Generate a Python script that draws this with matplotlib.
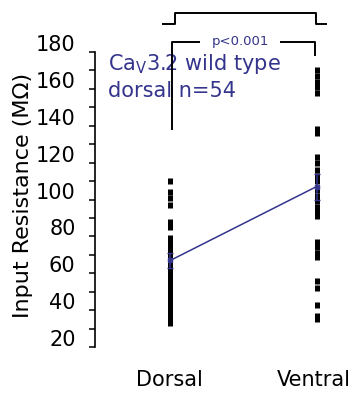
import matplotlib
matplotlib.use("Agg")
import matplotlib.pyplot as plt
import matplotlib.transforms as mtransforms
import numpy as np

# -----------------------------
# DATA
# -----------------------------
GROUPS = ["Dorsal", "Ventral"]

DORSAL = [110, 104, 101, 97, 88, 85,
          79, 78, 77, 76, 75, 74, 73, 72, 71, 70, 69, 68, 67, 66, 65,
          64, 63, 62, 62,
          61, 60, 59, 58, 57, 56, 55, 54, 53, 52, 51, 50, 49, 48, 47,
          46, 45, 44, 43, 42, 41, 40, 39, 38, 37, 36, 35, 34, 33]
VENTRAL = [170, 167, 164, 161, 158, 138, 136, 123, 120, 116, 113, 110,
           105, 102, 99, 96, 93, 91, 77, 74, 71, 69, 56, 52, 43, 37, 35]

MEANS = [67, 107]
SEMS = [4, 7]

Y_TICKS = [20, 40, 60, 80, 100, 120, 140, 160, 180]
Y_LABEL = "Input Resistance (M\u03a9)"
LEGEND_LINES = ["Ca$_\\mathregular{V}$3.2 wild type", "dorsal n=54"]
P_TEXT = "p<0.001"

# -----------------------------
# STYLE
# -----------------------------
BLUE = "#34348c"
W, H = 351, 397
DPI = 100
plt.rcParams["font.family"] = ["DejaVu Sans"]

fig = plt.figure(figsize=(W / DPI, H / DPI), dpi=DPI)

# axes placed in pixels: spine at x=95, y from 52 (top) to 347 (bottom)
left_px, right_px = 95, 345
top_px, bot_px = 52, 347
ax = fig.add_axes([left_px / W, 1 - bot_px / H,
                   (right_px - left_px) / W, (bot_px - top_px) / H])

ax.set_xlim(-0.517, 1.195)
ax.set_ylim(20, 180)

# raw points
for i, vals in enumerate([DORSAL, VENTRAL]):
    ax.plot(np.full(len(vals), i), vals, linestyle="none", marker="|",
            markersize=4.5, markeredgewidth=3.6, color="black", zorder=2)

# mean line with error bars
ax.errorbar(range(len(GROUPS)), MEANS, yerr=SEMS, color=BLUE, lw=1.1,
            marker="s", markersize=3, capsize=2, elinewidth=1.1, zorder=3)

# axes styling
for side in ["top", "right", "bottom"]:
    ax.spines[side].set_visible(False)
ax.spines["left"].set_linewidth(1.2)
ax.set_yticks(Y_TICKS)
ax.set_yticks(np.arange(30, 180, 20), minor=True)
ax.tick_params(axis="y", which="both", direction="out", length=4, width=1.1)
ax.tick_params(axis="y", which="major", labelsize=15, pad=10)
offset = mtransforms.ScaledTranslation(0, 9 / DPI, fig.dpi_scale_trans)
for lab in ax.get_yticklabels():
    lab.set_transform(lab.get_transform() + offset)

ax.set_xticks([])
for px, name in zip([169.5, 314], GROUPS):
    fig.text(px / W, 1 - 380 / H, name, fontsize=15, ha="center", va="center")

fig.text(23 / W, 1 - 195 / H, Y_LABEL, rotation=90, fontsize=16,
         ha="center", va="center")

# brackets (drawn outside the axes area)
kw = dict(color="black", lw=1.4, clip_on=False, solid_capstyle="butt")
ax.plot([-0.058, 0.031, 0.031, 0.997, 0.997, 1.072],
        [195, 195, 201, 201, 195, 195], **kw)
ax.plot([0.008, 0.008, 0.2], [137.7, 185.4, 185.4], **kw)
ax.plot([0.75, 0.99, 0.99], [185.4, 185.4, 178], **kw)
ax.text(0.477, 185.8, P_TEXT, color=BLUE, fontsize=9.5, ha="center", va="center")

# legend-like text
ax.text(-0.428, 170.5, LEGEND_LINES[0], color=BLUE, fontsize=15,
        ha="left", va="baseline", zorder=1)
ax.text(-0.428, 155.8, LEGEND_LINES[1], color=BLUE, fontsize=15,
        ha="left", va="baseline", zorder=1)

fig.savefig("out.png", dpi=DPI)
